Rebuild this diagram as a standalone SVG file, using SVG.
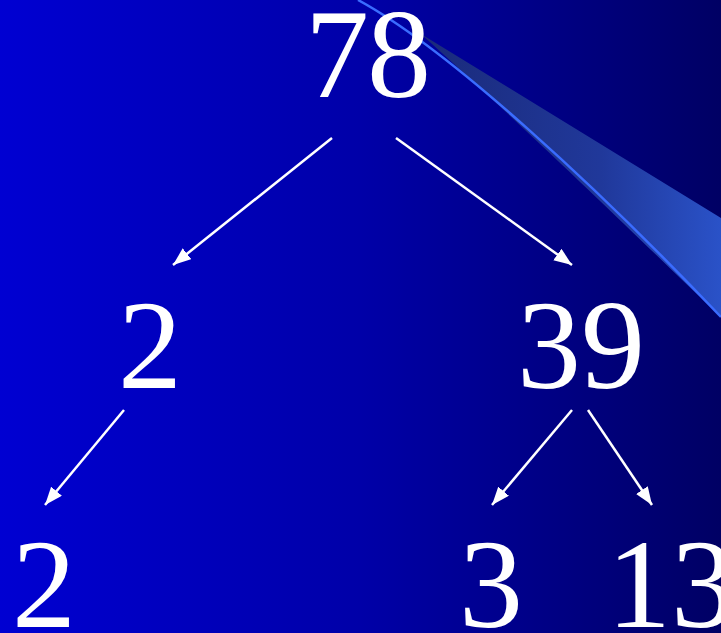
<svg xmlns="http://www.w3.org/2000/svg" width="721" height="633" viewBox="0 0 721 633">
<defs>
<linearGradient id="bg" x1="0" y1="0" x2="1" y2="0">
<stop offset="0" stop-color="#0000D2"/>
<stop offset="0.5" stop-color="#0000A8"/>
<stop offset="1" stop-color="#000064"/>
</linearGradient>
<linearGradient id="wedge" gradientUnits="userSpaceOnUse" x1="420" y1="0" x2="721" y2="0">
<stop offset="0" stop-color="#1a2a7a"/>
<stop offset="0.6" stop-color="#20389a"/>
<stop offset="1" stop-color="#2a52c8"/>
</linearGradient>
<marker id="ah" markerUnits="userSpaceOnUse" markerWidth="20" markerHeight="16" refX="18" refY="7" orient="auto">
<path d="M0,0 L18,7 L0,14 Z" fill="#ffffff"/>
</marker>
<style>
.num{font-family:"Liberation Serif","Times New Roman",serif;font-size:128px;fill:#ffffff}
.arr{stroke:#ffffff;stroke-width:2.5;fill:none;marker-end:url(#ah)}
</style>
</defs>
<rect width="721" height="633" fill="url(#bg)"/>
<g id="swoosh">
<path d="M421,34 L721,218 L721,317 C640,240 560,160 421,34 Z" fill="url(#wedge)"/>
<path d="M358,0 C450,50 600,190 721,317" fill="none" stroke="#3a6cff" stroke-width="2.5"/>
</g>
<g id="connectors">
<line class="arr" x1="332" y1="138" x2="173" y2="265"/>
<line class="arr" x1="396" y1="138" x2="572" y2="265"/>
<line class="arr" x1="124" y1="410" x2="45" y2="505"/>
<line class="arr" x1="572" y1="410" x2="492" y2="505"/>
<line class="arr" x1="588" y1="410" x2="652" y2="505"/>
</g>
<g id="n78"><text class="num" x="305" y="97" textLength="126">78</text></g>
<g id="n2a"><text class="num" x="118" y="388">2</text></g>
<g id="n39"><text class="num" x="517" y="388">39</text></g>
<g id="n2b"><text class="num" x="12" y="627">2</text></g>
<g id="n3"><text class="num" x="459" y="627">3</text></g>
<g id="n13"><text class="num" x="607" y="627">13</text></g>
</svg>
